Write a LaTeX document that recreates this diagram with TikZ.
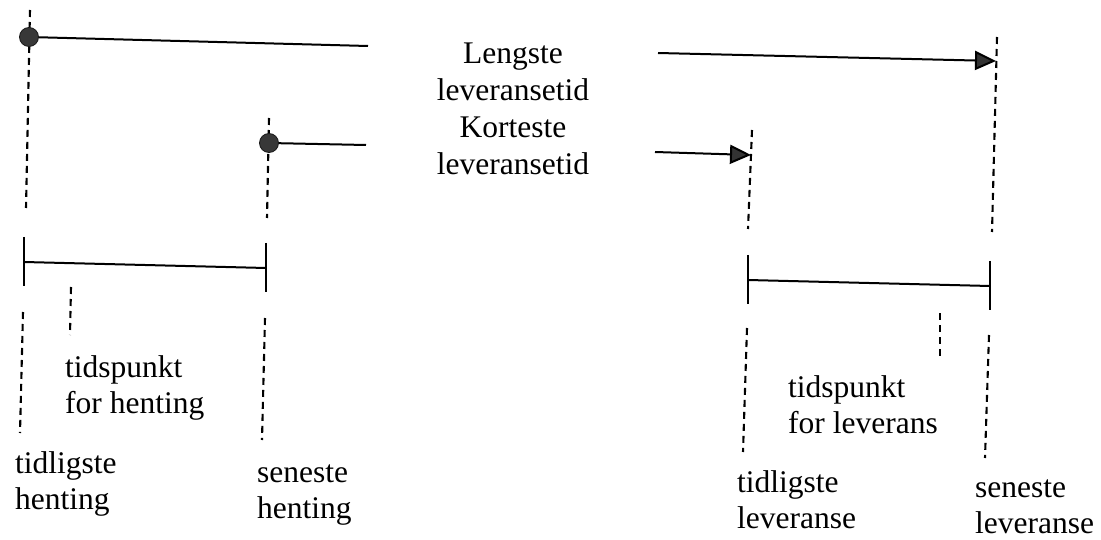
\documentclass[tikz,border=0pt]{standalone}
\usepackage{fontspec}
\setmainfont{Liberation Serif}
\usetikzlibrary{arrows.meta}
\begin{document}
\begin{tikzpicture}[x=1pt,y=-1pt,
  guideline/.style={line width=2.1pt, dash pattern=on 7pt off 5pt},
  barline/.style={line width=2pt},
  endtick/.style={line width=2.2pt},
  dotnode/.style={circle, fill=black!78, draw=black!90, line width=0.8pt,
                  minimum size=19pt, inner sep=0pt},
  spanline/.style={line width=2pt},
  spanarrow/.style={line width=2pt,
                    -{Triangle[length=21pt,width=19pt,fill=black!80]}},
  txt/.style={font=\fontsize{31.5}{36}\selectfont, inner sep=0pt,
              align=left, anchor=north west},
  midtxt/.style={font=\fontsize{31.5}{37}\selectfont, inner sep=0pt,
                 align=center, anchor=north},
]
\useasboundingbox (0,0) rectangle (1101,540);

% vertical time guides
\coordinate (g1a) at (30,10);   \coordinate (g1b) at (26,208);
\coordinate (g2a) at (269,118); \coordinate (g2b) at (267,218);
\coordinate (g3a) at (752,130); \coordinate (g3b) at (748,229);
\coordinate (g4a) at (997,37);  \coordinate (g4b) at (992,232);
\draw[guideline] (g1a) -- (g1b);
\draw[guideline] (g2a) -- (g2b);
\draw[guideline] (g3a) -- (g3b);
\draw[guideline] (g4a) -- (g4b);

% pick-up window
\coordinate (hl1) at (24,237);  \coordinate (hl2) at (24,286);
\coordinate (hr1) at (266,243); \coordinate (hr2) at (266,292);
\coordinate (hm1) at (24,262);  \coordinate (hm2) at (266,268);
\draw[endtick] (hl1) -- (hl2);
\draw[endtick] (hr1) -- (hr2);
\draw[barline] (hm1) -- (hm2);

% delivery window
\coordinate (ll1) at (748,255); \coordinate (ll2) at (748,304);
\coordinate (lr1) at (990,261); \coordinate (lr2) at (990,310);
\coordinate (lm1) at (748,280); \coordinate (lm2) at (990,286);
\draw[endtick] (ll1) -- (ll2);
\draw[endtick] (lr1) -- (lr2);
\draw[barline] (lm1) -- (lm2);

% lower guides
\coordinate (p1a) at (23,312);  \coordinate (p1b) at (20,433);
\coordinate (p2a) at (71,287);  \coordinate (p2b) at (70,335);
\coordinate (p3a) at (265,318); \coordinate (p3b) at (262,440);
\coordinate (q1a) at (747,328); \coordinate (q1b) at (743,452);
\coordinate (q2a) at (940,313); \coordinate (q2b) at (940,358);
\coordinate (q3a) at (989,335); \coordinate (q3b) at (985,458);
\draw[guideline] (p1a) -- (p1b);
\draw[guideline] (p2a) -- (p2b);
\draw[guideline] (p3a) -- (p3b);
\draw[guideline] (q1a) -- (q1b);
\draw[guideline] (q2a) -- (q2b);
\draw[guideline] (q3a) -- (q3b);

% lead times
\node[dotnode] (d1) at (29,37) {};
\node[dotnode] (d2) at (269,143) {};
\coordinate (e1) at (368,46);
\coordinate (e2) at (366,145);
\coordinate (s1) at (658,53);
\coordinate (s2) at (655,152);
\coordinate (t1) at (996,61);
\coordinate (t2) at (751,155);
\draw[spanline] (d1) -- (e1);
\draw[spanline] (d2) -- (e2);
\draw[spanarrow] (s1) -- (t1);
\draw[spanarrow] (s2) -- (t2);

% labels
\node[midtxt] (lang) at (513,37.1) {\strut Lengste\\leveransetid};
\node[midtxt] (kort) at (513,111.1) {\strut Korteste\\leveransetid};
\node[txt] (tph) at (65,351.8) {\strut tidspunkt\\for henting};
\node[txt] (tlh) at (15,447.8) {\strut tidligste\\henting};
\node[txt] (snh) at (257,456.8) {\strut seneste\\henting};
\node[txt] (tpl) at (788,371.8) {\strut tidspunkt\\for leverans};
\node[txt] (tll) at (737,466.8) {\strut tidligste\\leveranse};
\node[txt] (snl) at (975,471.8) {\strut seneste\\leveranse};
\end{tikzpicture}
\end{document}
